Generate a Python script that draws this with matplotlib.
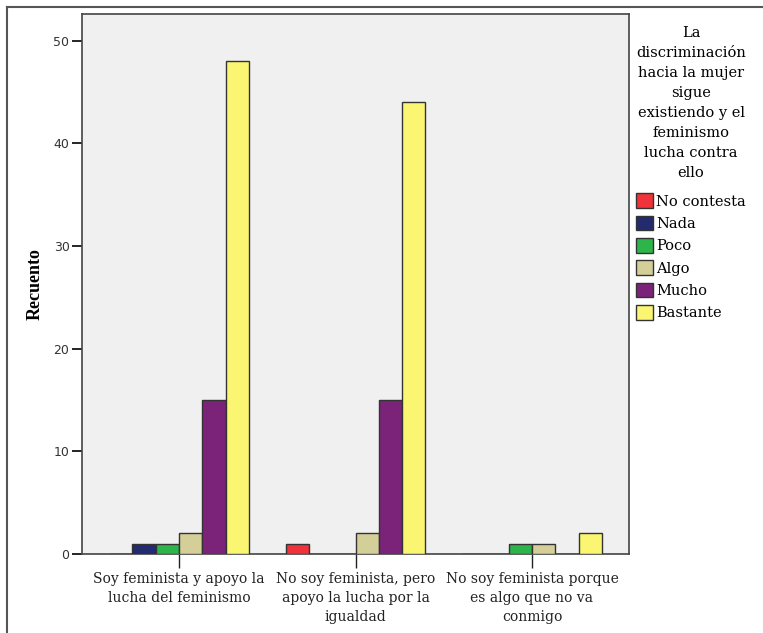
import numpy as np
import matplotlib.pyplot as plt
from matplotlib.patches import Patch
from matplotlib.lines import Line2D

# data
categories = ['Soy feminista y apoyo la\nlucha del feminismo',
              'No soy feminista, pero\napoyo la lucha por la\nigualdad',
              'No soy feminista porque\nes algo que no va\nconmigo']
series = ['No contesta', 'Nada', 'Poco', 'Algo', 'Mucho', 'Bastante']
no_contesta = [0, 1, 0]
nada = [1, 0, 0]
poco = [1, 0, 1]
algo = [2, 2, 1]
mucho = [15, 15, 0]
bastante = [48, 44, 2]
values = [no_contesta, nada, poco, algo, mucho, bastante]
colors = ['#f0323a', '#232a70', '#2db44a', '#d4cf99', '#7b2379', '#fbf671']
legend_title = ('La\ndiscriminación\nhacia la mujer\nsigue\nexistiendo y el\n'
                'feminismo\nlucha contra\nello')

serif = ['DejaVu Serif']

fig = plt.figure(figsize=(7.63, 6.33), dpi=100)
ax = fig.add_axes([82 / 763, 1 - 554 / 633, (629 - 82) / 763, (554 - 14) / 633])
ax.set_facecolor('#f0f0f0')

x = np.arange(len(categories))
w = 0.132
for i, (name, vals) in enumerate(zip(series, values)):
    ax.bar(x + (i - 2.5) * w, vals, w, color=colors[i], edgecolor='#333333',
           linewidth=1.0, label=name, zorder=3)

ax.set_xlim(-0.55, 2.55)
ax.set_ylim(0, 52.6)
ax.set_yticks([0, 10, 20, 30, 40, 50])
ax.set_xticks(x)
ax.set_xticklabels(categories, family=serif, fontsize=10, linespacing=1.45)
ax.tick_params(axis='x', length=10, width=1, pad=3, colors='#222222')
ax.tick_params(axis='y', length=7, width=1.2, pad=2, labelsize=9,
               labelcolor='#333333')
for s in ax.spines.values():
    s.set_color('#444444')
    s.set_linewidth(1.2)
ax.set_ylabel('Recuento', family='Liberation Serif', fontsize=13,
              fontweight='bold')
ax.yaxis.set_label_coords(-0.071, 0.5)

handles = [Patch(facecolor=c, edgecolor='#333333', linewidth=1.0) for c in colors]
leg = fig.legend(handles, series, loc='upper left',
                 bbox_to_anchor=(636 / 763, 1 - 26 / 633), frameon=False,
                 title=legend_title, prop={'family': serif, 'size': 10.5},
                 handlelength=1.15, handleheight=1.15, handletextpad=0.25,
                 labelspacing=0.49, borderaxespad=0, borderpad=0)
leg.get_title().set_fontfamily(serif)
leg.get_title().set_fontsize(10.5)
leg.get_title().set_multialignment('center')
leg.get_title().set_linespacing(1.54)
leg._legend_box.sep = 10

# outer frame lines (left and top)
fig.add_artist(Line2D([7 / 763, 7 / 763], [0, 1 - 7 / 633],
                      transform=fig.transFigure, color='#555555', lw=1.5))
fig.add_artist(Line2D([7 / 763, 1], [1 - 7 / 633, 1 - 7 / 633],
                      transform=fig.transFigure, color='#555555', lw=1.5))

fig.savefig('out.png', dpi=100)
